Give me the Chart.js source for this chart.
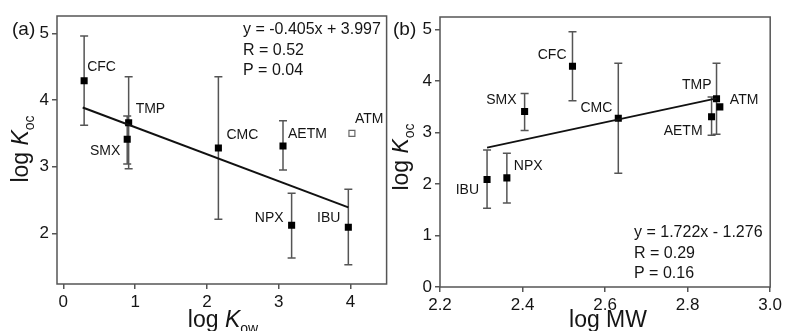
<!DOCTYPE html>
<html>
<head>
<meta charset="utf-8">
<script src="https://cdn.jsdelivr.net/npm/chart.js@4.4.1/dist/chart.umd.min.js"></script>
<style>
html, body { margin: 0; padding: 0; background: #fff; }
#wrap { position: relative; width: 785px; height: 331px; overflow: hidden; }
canvas { position: absolute; top: 0; }
</style>
</head>
<body>
<div id="wrap">
  <canvas id="chartA" width="392" height="331" style="left:0"></canvas>
  <canvas id="chartB" width="393" height="331" style="left:392px"></canvas>
</div>
<script>
// compounds, in the same order in every array
var compounds = ['CFC', 'TMP', 'SMX', 'CMC', 'AETM', 'NPX', 'IBU', 'ATM'];
var logKoc    = [4.29, 3.66, 3.41, 3.28, 3.31, 2.12, 2.09, 3.50];
var kocLow    = [3.62, 2.97, 3.04, 2.21, 2.95, 1.63, 1.53, null];
var kocHigh   = [4.96, 4.35, 3.76, 4.35, 3.69, 2.60, 2.66, null];
var logKow    = [0.29, 0.91, 0.89, 2.16, 3.06, 3.18, 3.97, 4.02];
var logMW     = [2.521, 2.870, 2.405, 2.632, 2.858, 2.362, 2.314, 2.878];

// fitted lines, end points
var fitKowX = [0.27, 3.97];
var fitKowY = [3.888, 2.389];
var fitMwX  = [2.314, 2.870];
var fitMwY  = [2.709, 3.666];

var fitKowText = ['y = -0.405x + 3.997', 'R = 0.52', 'P = 0.04'];
var fitMwText  = ['y = 1.722x - 1.276', 'R = 0.29', 'P = 0.16'];

// tick labels
var kowTicks = [0, 1, 2, 3, 4];
var mwTicks  = [2.2, 2.4, 2.6, 2.8, 3.0];
var kocTicksA = [2, 3, 4, 5];
var kocTicksB = [0, 1, 2, 3, 4, 5];

var FONT = '"Liberation Sans", Arial, sans-serif';
var INK = '#151515';
var AXIS = '#555';

// label placement: [align, dx, dy] from the marker centre
var labelPosA = [['left', 3, -14], ['left', 7, -14], ['right', -7, 12], ['left', 8, -13],
                 ['left', 5, -12], ['right', -8, -7], ['right', -8, -9], ['left', 3, -14]];
var labelPosB = [['right', -6, -11], ['right', -5, -14], ['right', -8, -11], ['right', -6, -10],
                 ['right', -9, 14], ['left', 7, -12], ['right', -8, 11], ['left', 10, -7]];

function pts(xs, ys, idx) {
    return idx.map(function(i) { return {x: xs[i], y: ys[i]}; });
}

function axis(min, max, ticks, decimals, size, fontSize) {
    return {
        type: 'linear',
        min: min,
        max: max,
        afterBuildTicks: function(s) {
            s.ticks = ticks.map(function(v) { return {value: v}; });
        },
        afterFit: function(s) {
            if (s.isHorizontal()) { s.height = size; } else { s.width = size; }
        },
        border: { display: false },
        grid: { drawOnChartArea: false, drawTicks: true, tickLength: 5, color: AXIS, lineWidth: 1.5 },
        ticks: {
            color: INK,
            font: { family: FONT, size: fontSize },
            padding: 3,
            maxRotation: 0,
            autoSkip: false,
            callback: function(v) { return Number(v).toFixed(decimals); }
        }
    };
}

// draws a run of text pieces (normal / italic / subscript) centred on x
function drawRich(ctx, segs, x, y) {
    var total = 0;
    segs.forEach(function(s) {
        ctx.font = s.font;
        s.w = ctx.measureText(s.t).width;
        total += s.w;
    });
    var cx = x - total / 2;
    ctx.textAlign = 'left';
    ctx.textBaseline = 'alphabetic';
    segs.forEach(function(s) {
        ctx.font = s.font;
        ctx.fillText(s.t, cx, y + (s.dy || 0));
        cx += s.w;
    });
}

function titleSegs(sub) {
    return [
        {t: 'log ', font: '23px ' + FONT},
        {t: 'K', font: 'italic 23px ' + FONT},
        {t: sub, font: '14px ' + FONT, dy: 6}
    ];
}

function panelPlugin(p) {
    return {
        id: 'panel' + p.tag,
        beforeDatasetsDraw: function(chart) {
            var ctx = chart.ctx, xs = chart.scales.x, ys = chart.scales.y;
            ctx.save();
            ctx.strokeStyle = AXIS;
            ctx.lineWidth = 1.5;
            p.xv.forEach(function(v, i) {
                if (kocLow[i] == null) return;
                var px = xs.getPixelForValue(v);
                var y1 = ys.getPixelForValue(kocLow[i]);
                var y2 = ys.getPixelForValue(kocHigh[i]);
                ctx.beginPath();
                ctx.moveTo(px, y1); ctx.lineTo(px, y2);
                ctx.moveTo(px - 4, y1); ctx.lineTo(px + 4, y1);
                ctx.moveTo(px - 4, y2); ctx.lineTo(px + 4, y2);
                ctx.stroke();
            });
            ctx.restore();
        },
        afterDraw: function(chart) {
            var ctx = chart.ctx, xs = chart.scales.x, ys = chart.scales.y;
            var a = chart.chartArea;
            ctx.save();
            // frame
            ctx.strokeStyle = AXIS;
            ctx.lineWidth = 1.5;
            ctx.strokeRect(a.left, a.top, a.right - a.left, a.bottom - a.top);

            // point labels
            ctx.fillStyle = INK;
            ctx.font = '14px ' + FONT;
            ctx.textBaseline = 'middle';
            compounds.forEach(function(name, i) {
                var lp = p.labelPos[i];
                ctx.textAlign = lp[0];
                ctx.fillText(name, xs.getPixelForValue(p.xv[i]) + lp[1],
                             ys.getPixelForValue(logKoc[i]) + lp[2]);
            });

            // regression text
            ctx.font = '16px ' + FONT;
            ctx.textAlign = 'left';
            p.fitText.forEach(function(line, i) {
                ctx.fillText(line, a.left + p.textDx, a.top + p.textDy + i * 20.5);
            });

            // panel tag
            ctx.font = '19px ' + FONT;
            ctx.textBaseline = 'alphabetic';
            ctx.fillText(p.tag, p.tagX, 35);

            // x title
            if (p.xSub) {
                drawRich(ctx, titleSegs(p.xSub), p.xTitleX, 327);
            } else {
                drawRich(ctx, [{t: p.xTitle, font: '23px ' + FONT}], p.xTitleX, 327);
            }

            // y title
            ctx.translate(p.yTitleX, p.yTitleY);
            ctx.rotate(-Math.PI / 2);
            drawRich(ctx, titleSegs('oc'), 0, 0);
            ctx.restore();
        }
    };
}

function scatterSets(xv, fitX, fitY, atmOpen) {
    var filled = atmOpen ? [0, 1, 2, 3, 4, 5, 6] : [0, 1, 2, 3, 4, 5, 6, 7];
    var sets = [
        {
            type: 'line',
            data: fitX.map(function(x, i) { return {x: x, y: fitY[i]}; }),
            borderColor: '#111',
            borderWidth: atmOpen ? 2 : 1.6,
            pointRadius: 0,
            fill: false
        },
        {
            data: pts(xv, logKoc, filled),
            pointStyle: 'rect',
            pointRadius: 5,
            backgroundColor: '#000',
            borderColor: '#000',
            borderWidth: 0
        }
    ];
    if (atmOpen) {
        sets.push({
            data: pts(xv, logKoc, [7]),
            pointStyle: 'rect',
            pointRadius: 4.2,
            backgroundColor: '#fff',
            borderColor: '#666',
            borderWidth: 1.2
        });
    }
    return sets;
}

function baseOptions(padding, xAxis, yAxis) {
    return {
        responsive: false,
        animation: false,
        layout: { padding: padding },
        plugins: { legend: { display: false }, tooltip: { enabled: false } },
        scales: { x: xAxis, y: yAxis }
    };
}

new Chart(document.getElementById('chartA'), {
    type: 'scatter',
    data: { datasets: scatterSets(logKow, fitKowX, fitKowY, true) },
    options: baseOptions({left: 0, right: 4, top: 16, bottom: 0},
        axis(-0.088, 4.503, kowTicks, 0, 47, 17),
        axis(1.24, 5.26, kocTicksA, 0, 57, 17)),
    plugins: [panelPlugin({
        tag: '(a)', tagX: 12, xv: logKow, labelPos: labelPosA,
        fitText: fitKowText, textDx: 186, textDy: 14,
        xSub: 'ow', xTitleX: 223, yTitleX: 28, yTitleY: 149
    })]
});

new Chart(document.getElementById('chartB'), {
    type: 'scatter',
    data: { datasets: scatterSets(logMW, fitMwX, fitMwY, false) },
    options: baseOptions({left: 0, right: 13, top: 17, bottom: 0},
        axis(2.2, 3.0, mwTicks, 1, 44, 17),
        axis(0, 5.247, kocTicksB, 0, 48, 17)),
    plugins: [panelPlugin({
        tag: '(b)', tagX: 1, xv: logMW, labelPos: labelPosB,
        fitText: fitMwText, textDx: 194, textDy: 216,
        xSub: null, xTitle: 'log MW', xTitleX: 216, yTitleX: 16, yTitleY: 157
    })]
});
</script>
</body>
</html>
